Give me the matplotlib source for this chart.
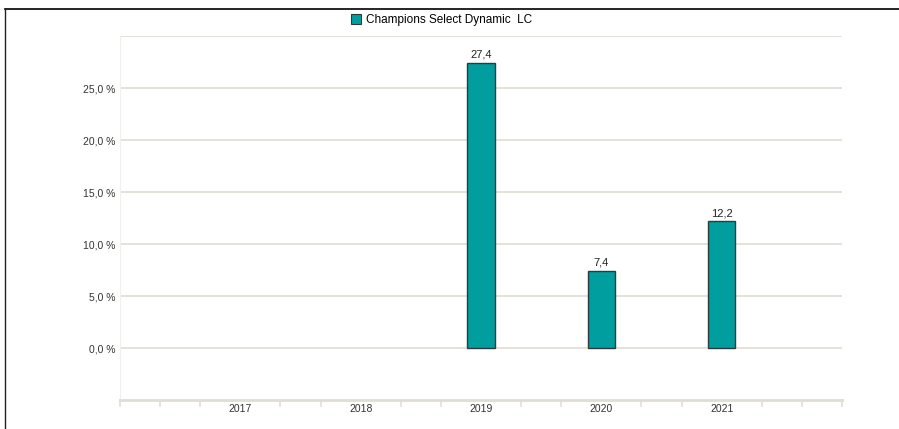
import numpy as np
import matplotlib
matplotlib.use("Agg")
import matplotlib.pyplot as plt
from matplotlib.lines import Line2D

plt.rcParams['font.family'] = ['Liberation Sans', 'DejaVu Sans']

# data
years = ['2017', '2018', '2019', '2020', '2021']
values = [np.nan, np.nan, 27.4, 7.4, 12.2]
series_name = 'Champions Select Dynamic  LC'
y_ticks = [0, 5, 10, 15, 20, 25]

barColor = '#009e9e'
edgeColor = '#2b3b3b'
gridColor = '#e0ddd4'
textColor = '#333333'

fig = plt.figure(figsize=(8.99, 4.29), dpi=100)
ax = fig.add_axes([120/899, (429-400)/429, (842-120)/899, (400-36)/429])

x = np.arange(1, len(years)+1)
vals = np.array(values, dtype=float)
mask = ~np.isnan(vals)
ax.bar(x[mask], vals[mask], width=0.225, color=barColor, edgecolor=edgeColor, linewidth=1.0, zorder=3)
for xi, v in zip(x[mask], vals[mask]):
    ax.text(xi, v + 0.3, ('%.1f' % v).replace('.', ','), ha='center', va='bottom',
            fontsize=8, color='#222222')

ax.set_xlim(0, 6)
ax.set_ylim(-5, 30)

# horizontal grid lines incl. the unlabeled top one
for g in y_ticks + [30]:
    ax.axhline(g, color=gridColor, linewidth=1.2, zorder=1)

ax.set_yticks(y_ticks)
ax.set_yticklabels([('%.1f %%' % t).replace('.', ',') for t in y_ticks])
ax.set_xticks(x)
ax.set_xticklabels(years)
ax.tick_params(axis='y', length=0, pad=3, labelsize=7.5, labelcolor=textColor)
ax.tick_params(axis='x', length=0, pad=3, labelsize=7.5, labelcolor=textColor)

# small ticks under the axis every third of a category, skipping the labels
minor = [k/3 for k in range(0, 19) if k % 3 != 0 or k in (0, 18)]
for m in minor:
    ax.plot([m, m], [-5, -5.6], color=gridColor, linewidth=1.2, clip_on=False, zorder=2)

for s in ['top', 'right']:
    ax.spines[s].set_visible(False)
ax.spines['left'].set_color('#f2f0ec')
ax.spines['left'].set_linewidth(0.8)
ax.spines['bottom'].set_color(gridColor)
ax.spines['bottom'].set_linewidth(2.0)

# legend at the top
handle = Line2D([], [], marker='s', linestyle='none', markersize=7,
                markerfacecolor=barColor, markeredgecolor=edgeColor, markeredgewidth=0.8)
fig.legend([handle], [series_name], loc='center', bbox_to_anchor=(441/899, 1-20/429),
           frameon=False, fontsize=8.5, handletextpad=0.3, borderpad=0, handlelength=1)

# frame lines on top and left of the picture
fig.add_artist(Line2D([5/899, 1], [1-9/429, 1-9/429], color='black', linewidth=1.2))
fig.add_artist(Line2D([5/899, 5/899], [0, 1-9/429], color='#222222', linewidth=1.0))

fig.savefig('out.png', dpi=100)
